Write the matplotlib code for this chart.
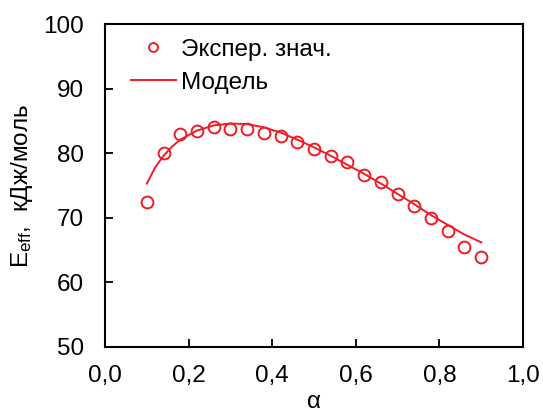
import matplotlib
matplotlib.use("Agg")
import matplotlib.pyplot as plt

plt.rcParams['font.family'] = ['Liberation Sans', 'DejaVu Sans']
plt.rcParams['mathtext.fontset'] = 'custom'
plt.rcParams['mathtext.rm'] = 'Liberation Sans'
plt.rcParams['mathtext.it'] = 'Liberation Sans'

alpha_exp = [0.10, 0.14, 0.18, 0.22, 0.26, 0.30, 0.34, 0.38, 0.42, 0.46, 0.50,
             0.54, 0.58, 0.62, 0.66, 0.70, 0.74, 0.78, 0.82, 0.86, 0.90]
E_exp = [72.4, 80.0, 83.0, 83.4, 84.0, 83.8, 83.7, 83.2, 82.7, 81.7, 80.7,
         79.5, 78.6, 76.7, 75.5, 73.7, 71.9, 70.0, 68.0, 65.5, 64.0]

alpha_model = [0.10, 0.12, 0.14, 0.16, 0.18, 0.22, 0.26, 0.30, 0.34, 0.38, 0.42,
               0.46, 0.50, 0.54, 0.58, 0.62, 0.66, 0.70, 0.74, 0.78, 0.82, 0.86, 0.90]
E_model = [75.3, 77.8, 79.6, 81.0, 82.1, 83.5, 84.3, 84.6, 84.5, 84.0, 83.2,
           82.1, 80.9, 79.6, 78.2, 76.8, 75.3, 73.7, 72.1, 70.4, 68.9, 67.4, 66.2]

xticks = [0.0, 0.2, 0.4, 0.6, 0.8, 1.0]
xticklabels = ['0,0', '0,2', '0,4', '0,6', '0,8', '1,0']
yticks = [50, 60, 70, 80, 90, 100]

red = '#ee1c25'
fs = 17.5

fig = plt.figure(figsize=(5.43, 4.16), dpi=100)
ax = fig.add_axes([0.1934, 0.1659, 0.7698, 0.7764])

ax.plot(alpha_exp, E_exp, linestyle='none', marker='o', markersize=8.5,
        markerfacecolor='none', markeredgecolor=red, markeredgewidth=1.4,
        label='Экспер. знач.')
ax.plot(alpha_model, E_model, color=red, linewidth=1.4, label='Модель')

ax.set_xlim(0, 1.0)
ax.set_ylim(50, 100)
ax.set_xticks(xticks)
ax.set_xticklabels(xticklabels)
ax.set_yticks(yticks)

ax.tick_params(direction='in', length=6, width=1.3, labelsize=fs,
               top=False, right=False)
ax.tick_params(axis='y', pad=15)
ax.tick_params(axis='x', pad=13)
for s in ax.spines.values():
    s.set_linewidth(1.5)

ax.set_xlabel('α', fontsize=fs, labelpad=3)
ax.set_ylabel('E$_{\\mathrm{eff}}$,  кДж/моль', fontsize=fs, labelpad=6)

ax.legend(loc='upper left', bbox_to_anchor=(0.062, 0.955), frameon=False,
          fontsize=fs, handlelength=1.85, handletextpad=0.2, labelspacing=0.45,
          borderaxespad=0.0, borderpad=0.0, markerscale=0.75)

fig.savefig('out.png', dpi=100)
